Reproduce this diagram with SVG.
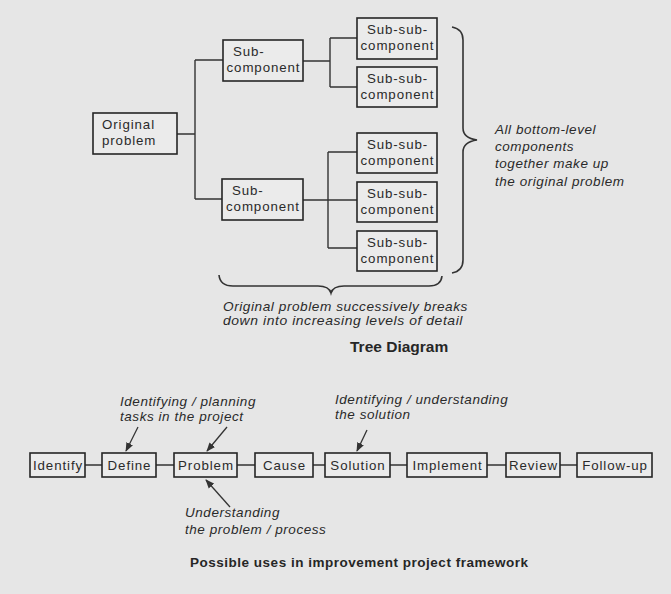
<svg xmlns="http://www.w3.org/2000/svg" width="671" height="594" viewBox="0 0 671 594">
  <style>
    .box { fill: #ebebeb; stroke: #262626; stroke-width: 1.6; }
    .lbl { font-family: "Liberation Sans", Arial, sans-serif; font-size: 13.3px; letter-spacing: 0.9px; fill: #2a2a2a; text-anchor: middle; }
    .lbl.l { text-anchor: start; }
    .note { font-family: "Liberation Sans", Arial, sans-serif; font-size: 13.5px; letter-spacing: 0.55px; font-style: italic; fill: #2a2a2a; }
    .title { font-family: "Liberation Sans", Arial, sans-serif; font-weight: bold; fill: #262626; }
    .wire { fill: none; stroke: #333; stroke-width: 1.4; }
    .brace { fill: none; stroke: #333; stroke-width: 1.6; }
    .arrow { fill: none; stroke: #333; stroke-width: 1.3; marker-end: url(#head); }
  </style>
  <defs>
    <marker id="head" viewBox="0 0 10 10" refX="9" refY="5" markerWidth="7" markerHeight="7" orient="auto">
      <path d="M0,1 L10,5 L0,9 Z" fill="#333"/>
    </marker>
  </defs>

  <rect x="0" y="0" width="671" height="594" fill="#e6e6e6"/>

  <!-- tree connectors -->
  <g id="tree-connectors">
    <path class="wire" d="M177,134 H195 M195,60 V199 M195,60 H223 M195,199 H222"/>
    <path class="wire" d="M303,61 H330 M330,38 V87 M330,38 H357 M330,87 H357"/>
    <path class="wire" d="M303,200 H357 M328,152 V248 M328,152 H357 M328,248 H357"/>
  </g>

  <!-- tree nodes -->
  <g id="original-problem">
    <rect class="box" x="93" y="113" width="84" height="41"/>
    <text class="lbl l" x="102" y="129">Original</text>
    <text class="lbl l" x="102" y="145">problem</text>
  </g>
  <g id="sub-component-1">
    <rect class="box" x="223" y="40" width="80" height="41"/>
    <text class="lbl l" x="233" y="56">Sub-</text>
    <text class="lbl" x="263.5" y="72">component</text>
  </g>
  <g id="sub-component-2">
    <rect class="box" x="222" y="179" width="81" height="41"/>
    <text class="lbl l" x="232" y="195">Sub-</text>
    <text class="lbl" x="263" y="211">component</text>
  </g>
  <g id="sub-sub-1">
    <rect class="box" x="357" y="18" width="80" height="41"/>
    <text class="lbl" x="397.5" y="34">Sub-sub-</text>
    <text class="lbl" x="397.5" y="50">component</text>
  </g>
  <g id="sub-sub-2">
    <rect class="box" x="357" y="67" width="80" height="40"/>
    <text class="lbl" x="397.5" y="83">Sub-sub-</text>
    <text class="lbl" x="397.5" y="99">component</text>
  </g>
  <g id="sub-sub-3">
    <rect class="box" x="357" y="133" width="80" height="40"/>
    <text class="lbl" x="397.5" y="149">Sub-sub-</text>
    <text class="lbl" x="397.5" y="165">component</text>
  </g>
  <g id="sub-sub-4">
    <rect class="box" x="357" y="182" width="80" height="40"/>
    <text class="lbl" x="397.5" y="198">Sub-sub-</text>
    <text class="lbl" x="397.5" y="214">component</text>
  </g>
  <g id="sub-sub-5">
    <rect class="box" x="357" y="231" width="80" height="40"/>
    <text class="lbl" x="397.5" y="247">Sub-sub-</text>
    <text class="lbl" x="397.5" y="263">component</text>
  </g>

  <!-- braces -->
  <g id="braces">
    <path class="brace" d="M452,27 Q463,29 463,40 L463,128 Q463,138 477,140 Q463,142 463,152 L463,260 Q463,271 452,273"/>
    <path class="brace" d="M219,275 Q220,286 233,286 L318,286 Q329,286 331,293 Q333,286 344,286 L429,286 Q441,286 442,276"/>
  </g>

  <g id="side-note">
    <text class="note" x="495" y="134">All bottom-level</text>
    <text class="note" x="495" y="151">components</text>
    <text class="note" x="495" y="168">together make up</text>
    <text class="note" x="495" y="186">the original problem</text>
  </g>
  <g id="bottom-note">
    <text class="note" x="223" y="311" textLength="245" lengthAdjust="spacingAndGlyphs">Original problem successively breaks</text>
    <text class="note" x="223" y="325" textLength="240" lengthAdjust="spacingAndGlyphs">down into increasing levels of detail</text>
  </g>
  <text class="title" x="350" y="352" font-size="15.5">Tree Diagram</text>

  <!-- framework row connectors -->
  <g id="row-connectors">
    <path class="wire" d="M85,465 H102 M156,465 H174 M237,465 H255 M313,465 H325 M390,465 H407 M487,465 H506 M560,465 H577"/>
    <path class="arrow" d="M138,427 L126,451"/>
    <path class="arrow" d="M227,427 L207,451"/>
    <path class="arrow" d="M230,507 L206,480"/>
    <path class="arrow" d="M367,430 L357,451"/>
  </g>

  <!-- framework row nodes -->
  <g id="identify">
    <rect class="box" x="30" y="453" width="55" height="24"/>
    <text class="lbl" x="58" y="470">Identify</text>
  </g>
  <g id="define">
    <rect class="box" x="102" y="453" width="54" height="24"/>
    <text class="lbl" x="129.5" y="470">Define</text>
  </g>
  <g id="problem">
    <rect class="box" x="174" y="453" width="63" height="24"/>
    <text class="lbl" x="206" y="470">Problem</text>
  </g>
  <g id="cause">
    <rect class="box" x="255" y="453" width="58" height="24"/>
    <text class="lbl" x="284.5" y="470">Cause</text>
  </g>
  <g id="solution">
    <rect class="box" x="325" y="453" width="65" height="24"/>
    <text class="lbl" x="358" y="470">Solution</text>
  </g>
  <g id="implement">
    <rect class="box" x="407" y="453" width="80" height="24"/>
    <text class="lbl" x="447.5" y="470">Implement</text>
  </g>
  <g id="review">
    <rect class="box" x="506" y="453" width="54" height="24"/>
    <text class="lbl" x="533.5" y="470">Review</text>
  </g>
  <g id="follow-up">
    <rect class="box" x="577" y="453" width="75" height="24"/>
    <text class="lbl" x="615" y="470">Follow-up</text>
  </g>

  <g id="row-notes">
    <text class="note" x="120" y="406">Identifying / planning</text>
    <text class="note" x="120" y="421">tasks in the project</text>
    <text class="note" x="335" y="404">Identifying / understanding</text>
    <text class="note" x="335" y="419">the solution</text>
    <text class="note" x="185" y="517">Understanding</text>
    <text class="note" x="185" y="534">the problem / process</text>
  </g>

  <text class="title" x="190" y="567" font-size="13.5" textLength="338" lengthAdjust="spacing">Possible uses in improvement project framework</text>
</svg>
